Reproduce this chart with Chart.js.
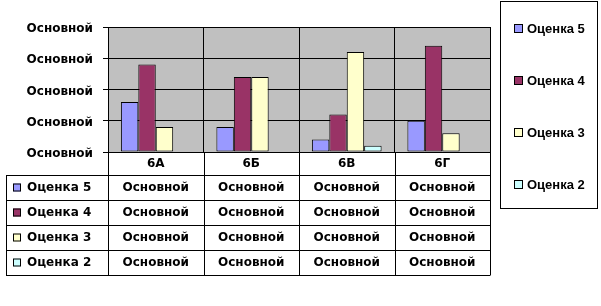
<!DOCTYPE html>
<html>
<head>
<meta charset="utf-8">
<script src="https://cdn.jsdelivr.net/npm/chart.js@4"></script>
<style>
  body { margin: 0; background: #fff; }
  #wrap { width: 601px; height: 306px; }
</style>
</head>
<body>
<div id="wrap"><canvas id="myChart" width="601" height="306"></canvas></div>
<script>
// データ
var categories = ['6А', '6Б', '6В', '6Г'];
var seriesNames = ['Оценка 5', 'Оценка 4', 'Оценка 3', 'Оценка 2'];
var ocenka5 = [8, 4, 2, 5];
var ocenka4 = [14, 12, 6, 17];
var ocenka3 = [4, 12, 16, 3];
var ocenka2 = [0, 0, 1, 0];
var yTickLabels = ['Основной', 'Основной', 'Основной', 'Основной', 'Основной'];
// таблица данных под графиком (в оригинале везде "Основной")
var tableCells = [
  ['Основной', 'Основной', 'Основной', 'Основной'],
  ['Основной', 'Основной', 'Основной', 'Основной'],
  ['Основной', 'Основной', 'Основной', 'Основной'],
  ['Основной', 'Основной', 'Основной', 'Основной']
];
var seriesColors = ['#9999FF', '#993366', '#FFFFCC', '#CCFFFF'];

var boldFont = 'bold 12px "DejaVu Sans"';
var legendFont = 'bold 13px "Liberation Sans"';

// серый фон области построения
var plotBg = {
  id: 'plotBg',
  beforeDraw: function(chart) {
    var a = chart.chartArea;
    var ctx = chart.ctx;
    ctx.save();
    ctx.fillStyle = '#C0C0C0';
    ctx.fillRect(a.left, a.top, a.right - a.left, a.bottom - a.top);
    ctx.restore();
  }
};

// таблица данных + легенда справа
var dataTable = {
  id: 'dataTable',
  afterDraw: function(chart) {
    var ctx = chart.ctx;
    var a = chart.chartArea;
    var x = chart.scales.x;
    var headBottom = 175;
    var rowH = 25;
    var tableLeft = 6;
    var bottom = headBottom + rowH * seriesNames.length;
    var colW = (a.right - a.left) / categories.length;

    ctx.save();
    ctx.strokeStyle = '#000';
    ctx.lineWidth = 1;
    ctx.beginPath();
    // горизонтальные линии
    for (var r = 0; r <= seriesNames.length; r++) {
      var yy = headBottom + r * rowH + 0.5;
      ctx.moveTo(tableLeft, yy);
      ctx.lineTo(a.right, yy);
    }
    // вертикальные линии
    ctx.moveTo(tableLeft + 0.5, headBottom);
    ctx.lineTo(tableLeft + 0.5, bottom + 0.5);
    for (var c = 0; c <= categories.length; c++) {
      var xx = Math.round(a.left + c * colW) + 0.5;
      ctx.moveTo(xx, a.bottom);
      ctx.lineTo(xx, bottom + 0.5);
    }
    ctx.stroke();

    // строки
    ctx.textBaseline = 'middle';
    for (var i = 0; i < seriesNames.length; i++) {
      var cy = headBottom + i * rowH + rowH / 2;
      ctx.fillStyle = seriesColors[i];
      ctx.fillRect(13, cy - 4, 8, 8);
      ctx.strokeRect(13.5, cy - 3.5, 7, 7);
      ctx.fillStyle = '#000';
      ctx.font = boldFont;
      ctx.textAlign = 'left';
      ctx.fillText(seriesNames[i], 27, cy);
      ctx.textAlign = 'center';
      for (var j = 0; j < categories.length; j++) {
        ctx.fillText(tableCells[i][j], x.getPixelForValue(j), cy);
      }
    }

    // легенда
    ctx.strokeRect(500.5, 1.5, 97, 207);
    ctx.font = legendFont;
    ctx.textAlign = 'left';
    for (var k = 0; k < seriesNames.length; k++) {
      var ly = 28 + k * 52;
      ctx.fillStyle = seriesColors[k];
      ctx.fillRect(514, ly - 4, 9, 9);
      ctx.strokeRect(514.5, ly - 3.5, 8, 8);
      ctx.fillStyle = '#000';
      ctx.fillText(seriesNames[k], 527, ly + 1);
    }
    ctx.restore();
  }
};

function makeDatasets() {
  var vals = [ocenka5, ocenka4, ocenka3, ocenka2];
  var ds = [];
  for (var i = 0; i < seriesNames.length; i++) {
    ds.push({
      label: seriesNames[i],
      data: vals[i],
      backgroundColor: seriesColors[i],
      borderColor: '#000',
      borderWidth: 1,
      borderSkipped: false,
      barPercentage: 1,
      categoryPercentage: 0.73
    });
  }
  return ds;
}

var ctx = document.getElementById('myChart').getContext('2d');
var chart = new Chart(ctx, {
  type: 'bar',
  data: { labels: categories, datasets: makeDatasets() },
  options: {
    responsive: false,
    animation: false,
    layout: { padding: { left: 0, right: 111, top: 27, bottom: 0 } },
    plugins: { legend: { display: false }, tooltip: { enabled: false } },
    scales: {
      x: {
        offset: true,
        grid: { offset: true, color: '#000', drawTicks: false, lineWidth: 1 },
        border: { color: '#000' },
        ticks: { color: '#000', font: { family: 'DejaVu Sans', size: 12, weight: 'bold' }, padding: 5 },
        afterFit: function(scale) { scale.height = 154; }
      },
      y: {
        min: 0,
        max: 20,
        grid: { color: '#000', tickLength: 5 },
        border: { color: '#000' },
        ticks: {
          stepSize: 5,
          color: '#000',
          padding: 10,
          labelOffset: 2,
          font: { family: 'DejaVu Sans', size: 12, weight: 'bold' },
          callback: function(v, i) { return yTickLabels[i]; }
        },
        afterFit: function(scale) { scale.width = 108; }
      }
    }
  },
  plugins: [plotBg, dataTable]
});
</script>
</body>
</html>
